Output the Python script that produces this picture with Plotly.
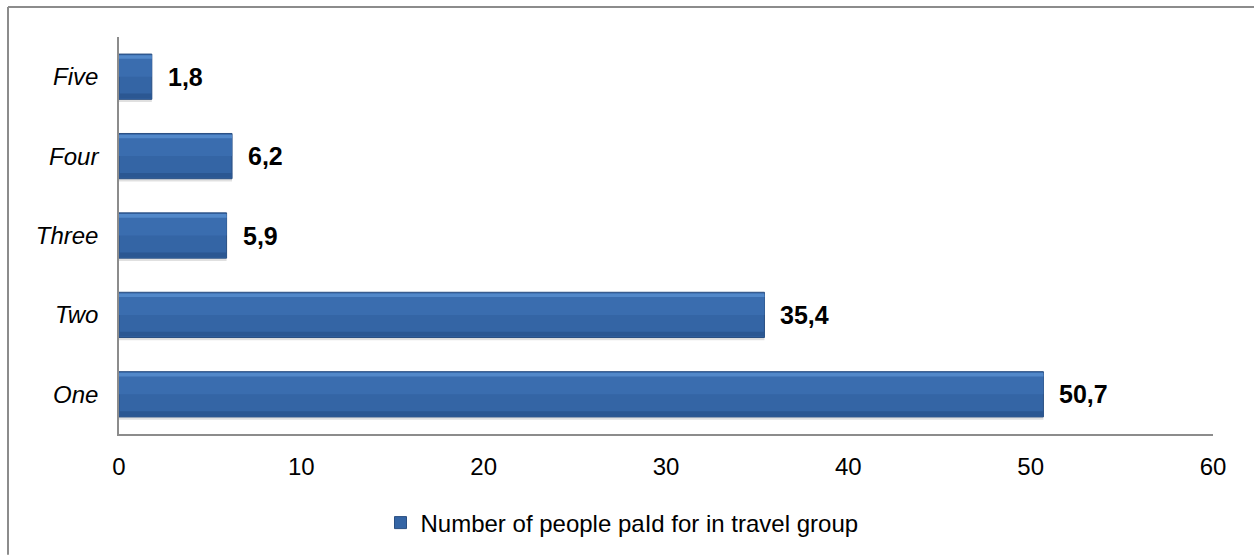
import plotly.graph_objects as go

categories = ["One", "Two", "Three", "Four", "Five"]
values = [50.7, 35.4, 5.9, 6.2, 1.8]
x_ticks = [0, 10, 20, 30, 40, 50, 60]
series_name = "Number of people paId for in travel group"

W, H = 1254, 556
L, R, T, B = 119, 1213, 37, 435
BW = 0.57
FONT = "Liberation Sans, Arial"

fig = go.Figure()
# soft shadow
fig.add_trace(go.Bar(y=categories, x=values, orientation="h", showlegend=False, hoverinfo="skip",
                     width=BW, offset=-BW / 2 - 0.035,
                     marker=dict(color="rgba(0,0,0,0.12)", line=dict(width=0))))
# main bar
fig.add_trace(go.Bar(y=categories, x=values, orientation="h", name=series_name,
                     width=BW, offset=-BW / 2,
                     marker=dict(color="#3465A5", line=dict(color="#2A4F82", width=1))))
# bevel bands
fig.add_trace(go.Bar(y=categories, x=values, orientation="h", showlegend=False, hoverinfo="skip",
                     width=BW / 2 - 0.04, offset=0.0,
                     marker=dict(color="#3A6DAF", line=dict(width=0))))
fig.add_trace(go.Bar(y=categories, x=values, orientation="h", showlegend=False, hoverinfo="skip",
                     width=0.045, offset=BW / 2 - 0.06,
                     marker=dict(color="#5288C9", line=dict(width=0))))
fig.add_trace(go.Bar(y=categories, x=values, orientation="h", showlegend=False, hoverinfo="skip",
                     width=0.06, offset=-BW / 2 + 0.012,
                     marker=dict(color="#2B5792", line=dict(width=0))))

for c, v in zip(categories, values):
    fig.add_annotation(x=v, y=c, xref="x", yref="y", text=f"{v:.1f}".replace(".", ","),
                       showarrow=False, xanchor="left", xshift=14,
                       font=dict(family=FONT, size=25, color="#000", weight="bold"))

def px(xp):
    return (xp - L) / (R - L)

def py(yp):
    return (B - yp) / (B - T)

fig.add_shape(type="line", xref="paper", yref="paper", x0=px(8), x1=px(1254), y0=py(7), y1=py(7),
              line=dict(color="#8c8c8c", width=2))
fig.add_shape(type="line", xref="paper", yref="paper", x0=px(8), x1=px(8), y0=py(7), y1=py(556),
              line=dict(color="#8c8c8c", width=2))

fig.update_layout(
    width=W, height=H,
    margin=dict(l=L, r=W - R, t=T, b=H - B),
    paper_bgcolor="white", plot_bgcolor="white",
    barmode="overlay",
    font=dict(family=FONT, size=24, color="#000"),
    xaxis=dict(range=[0, 60], tickvals=x_ticks, showgrid=False, zeroline=False,
               showline=True, linecolor="#8c8c8c", linewidth=1.5, ticks="",
               tickfont=dict(size=24), ticklabelstandoff=10, automargin=False),
    yaxis=dict(categoryorder="array", categoryarray=categories, showgrid=False,
               showline=True, linecolor="#8c8c8c", linewidth=1.5, ticks="",
               tickfont=dict(size=24, style="italic"), ticklabelstandoff=14, automargin=False),
    legend=dict(orientation="h", x=px(622), xanchor="center", y=py(523), yanchor="middle",
                font=dict(size=24), itemwidth=30),
)

fig.write_html("out.html", config={"displayModeBar": False},
               post_script="document.body.style.margin='0';")
